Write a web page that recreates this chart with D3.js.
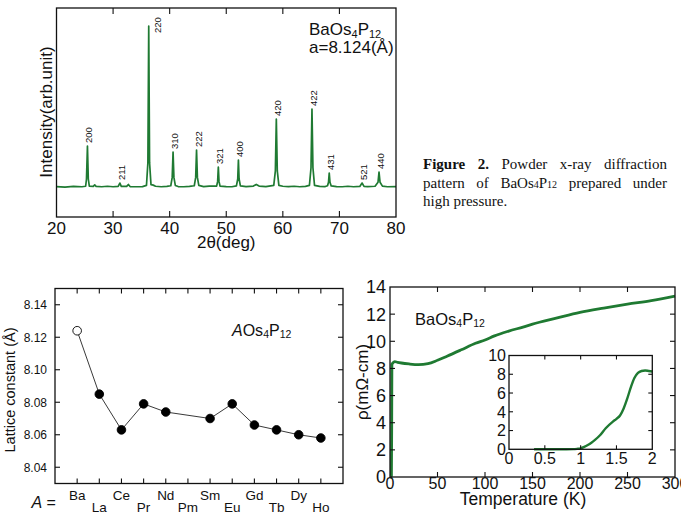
<!DOCTYPE html>
<html>
<head>
<meta charset="utf-8">
<script src="https://cdn.jsdelivr.net/npm/d3@7"></script>
<style>
  body { margin: 0; background: #fff; }
  text { font-family: 'Liberation Sans', Arial, sans-serif; fill: #111; }
  .serif { font-family: 'Liberation Serif', 'Times New Roman', serif; }
</style>
</head>
<body>
<div id="chart"></div>
<script>
// --- XRD pattern (top) ---
const xrdAngle = [20.0, 21.5, 23.0, 24.5, 25.15, 25.3, 25.47, 25.62, 25.8, 26.5, 26.75, 27.0, 28.0, 29.0, 30.0,
  30.9, 31.2, 31.45, 32.4, 32.7, 33.0, 34.0, 35.2, 35.9, 36.15, 36.3, 36.45, 36.7, 37.1, 37.5, 38.5, 39.5,
  40.2, 40.45, 40.6, 40.75, 41.0, 41.5, 42.5, 43.5, 44.35, 44.6, 44.75, 44.9, 45.15, 46.0, 47.0, 48.3, 48.48,
  48.6, 48.72, 48.9, 50.0, 51.0, 51.8, 52.03, 52.15, 52.27, 52.5, 53.5, 54.8, 55.3, 55.8, 57.0, 58.4, 58.68,
  58.85, 59.02, 59.3, 60.0, 61.0, 62.0, 63.0, 64.0, 64.7, 64.98, 65.15, 65.32, 65.6, 66.5, 67.5, 67.9, 68.07,
  68.2, 68.33, 68.55, 69.5, 70.5, 71.5, 72.5, 73.6, 74.0, 74.35, 75.0, 76.3, 76.82, 77.0, 77.18, 77.6, 78.5, 80.0];
const xrdCounts = [0.3, 0.0, 0.4, 0.2, 0.5, 5, 25.5, 5, 0.6, 0.4, 1.3, 0.4, 0.2, 0.5, 0.2,
  0.4, 2.5, 0.4, 0.4, 1.6, 0.3, 0.2, 0.3, 1.0, 15, 100, 15, 1.5, 1.2, 0.5, 0.2, 0.4,
  0.8, 6, 21.7, 6, 1.0, 0.3, 0.2, 0.4, 0.8, 6, 23, 6, 1.0, 0.3, 0.6, 0.6, 3.5,
  12.4, 3.5, 0.6, 0.3, 0.2, 0.7, 5, 16.8, 5, 0.7, 0.3, 0.6, 1.6, 0.6, 0.3, 1.0, 10,
  42.2, 10, 1.0, 0.5, 0.3, 0.5, 0.2, 0.4, 1.0, 12, 48.4, 12, 1.0, 0.4, 0.3, 0.8, 3,
  8.7, 3, 0.7, 0.3, 0.2, 0.5, 0.2, 0.4, 2.5, 0.4, 0.3, 0.5, 3, 9.3, 3, 0.6, 0.2, 0.3];
const peakHkl = ['200', '211', '220', '310', '222', '321', '400', '420', '422', '431', '521', '440'];
const peakAngle = [25.47, 31.2, 36.3, 40.6, 44.75, 48.6, 52.15, 58.85, 65.15, 68.2, 74.0, 77.0];
const peakHeight = [25.5, 2.5, 100, 21.7, 23, 12.4, 16.8, 42.2, 48.4, 8.7, 2.5, 9.3];
const xrdTicks = [20, 30, 40, 50, 60, 70, 80];

// --- lattice constants (bottom left) ---
const elements = ['Ba', 'La', 'Ce', 'Pr', 'Nd', 'Pm', 'Sm', 'Eu', 'Gd', 'Tb', 'Dy', 'Ho'];
const latticeA = [8.124, 8.085, 8.063, 8.079, 8.074, null, 8.070, 8.079, 8.066, 8.063, 8.060, 8.058];
const latticeTicks = [8.04, 8.06, 8.08, 8.10, 8.12, 8.14];

// --- resistivity (bottom right) ---
const rhoT = [0.5, 1.0, 1.5, 1.8, 2.0, 3, 5, 8, 12, 20, 30, 40, 50, 60, 75, 90, 100, 110, 125, 140, 150,
  175, 200, 225, 250, 275, 300];
const rhoV = [0, 0, 0.1, 4.0, 8.3, 8.4, 8.5, 8.45, 8.4, 8.33, 8.28, 8.35, 8.6, 8.9, 9.37, 9.85, 10.1,
  10.4, 10.75, 11.05, 11.26, 11.7, 12.13, 12.45, 12.74, 13.0, 13.33];
const insetT = [0.35, 0.5, 0.7, 0.9, 0.95, 1.0, 1.05, 1.1, 1.15, 1.2, 1.27, 1.35, 1.45, 1.5, 1.55, 1.6,
  1.65, 1.7, 1.75, 1.8, 1.85, 1.9, 1.95, 2.0];
const insetV = [0, 0, 0, 0.02, 0.05, 0.1, 0.25, 0.45, 0.7, 1.0, 1.5, 2.25, 2.95, 3.25, 3.6, 4.35,
  5.4, 6.6, 7.6, 8.15, 8.35, 8.4, 8.35, 8.3];
const rhoXTicks = [0, 50, 100, 150, 200, 250, 300];
const rhoYTicks = [0, 2, 4, 6, 8, 10, 12, 14];
const insetXTicks = [0, 0.5, 1, 1.5, 2];
const insetYTicks = [0, 2, 4, 6, 8, 10];

const GREEN = '#1f7a32';
const WIDTH = 681;
const HEIGHT = 516;

const svg = d3.select('#chart').append('svg')
  .attr('width', WIDTH).attr('height', HEIGHT)
  .attr('viewBox', [0, 0, WIDTH, HEIGHT]);

svg.append('rect').attr('width', WIDTH).attr('height', HEIGHT).attr('fill', '#fff');

/**
 * 化学式を下付き文字つきで描く
 */
function formula(g, x, y, parts, size, subSize, subDy) {
  const t = g.append('text').attr('x', x).attr('y', y).attr('font-size', size);
  parts.forEach(([s, sub, italic]) => {
    const sp = t.append('tspan').text(s);
    if (sub) sp.attr('font-size', subSize).attr('dy', subDy);
    else if (t.attr('data-sub') === '1') sp.attr('dy', -subDy);
    if (italic) sp.attr('font-style', 'italic');
    t.attr('data-sub', sub ? '1' : '0');
  });
  return t;
}

/**
 * 枠と内向きの目盛り
 */
function frame(g, x, y, ticksX, ticksY, len, opts) {
  const [x0, x1] = x.range();
  const [y0, y1] = y.range();
  const fmtX = opts.fmtX || (d => d);
  const fmtY = opts.fmtY || (d => d);
  const ax = g.append('g');
  const tickVals = ticksX.filter(d => x(d) > x0 + 1 && x(d) < x1 - 1);
  ax.selectAll('.tb').data(tickVals).join('line')
    .attr('x1', d => x(d)).attr('x2', d => x(d)).attr('y1', y0).attr('y2', y0 - len);
  ax.selectAll('.tt').data(tickVals).join('line')
    .attr('class', 'tt')
    .attr('x1', d => x(d)).attr('x2', d => x(d)).attr('y1', y1).attr('y2', y1 + len);
  if (ticksY) {
    const yVals = ticksY.filter(d => y(d) < y0 - 1 && y(d) > y1 + 1);
    ax.selectAll('.tl').data(yVals).join('line')
      .attr('class', 'tl')
      .attr('x1', x0).attr('x2', x0 + len).attr('y1', d => y(d)).attr('y2', d => y(d));
    ax.selectAll('.tr').data(yVals).join('line')
      .attr('class', 'tr')
      .attr('x1', x1).attr('x2', x1 - len).attr('y1', d => y(d)).attr('y2', d => y(d));
  }
  ax.selectAll('line').attr('stroke', '#111').attr('stroke-width', 1.1);
  g.append('rect')
    .attr('x', x0).attr('y', y1).attr('width', x1 - x0).attr('height', y0 - y1)
    .attr('fill', 'none').attr('stroke', '#111').attr('stroke-width', 1.3);
  if (opts.labelX) {
    g.append('g').selectAll('text').data(ticksX).join('text')
      .attr('x', d => x(d)).attr('y', y0 + opts.labelX)
      .attr('text-anchor', 'middle').attr('font-size', opts.size)
      .text(fmtX);
  }
  if (ticksY && opts.labelY) {
    g.append('g').selectAll('text').data(ticksY).join('text')
      .attr('x', x0 - opts.labelY).attr('y', d => y(d))
      .attr('dy', '0.36em')
      .attr('text-anchor', 'end').attr('font-size', opts.sizeY || opts.size)
      .text(fmtY);
  }
}

// ===== XRD =====
const gx = svg.append('g');
const xX = d3.scaleLinear().domain([20, 80]).range([56.5, 396]);
const yX = d3.scaleLinear().domain([-18.6, 111.2]).range([217, 8]);

gx.append('path')
  .datum(xrdAngle.map((a, i) => [a, xrdCounts[i]]))
  .attr('fill', 'none').attr('stroke', GREEN).attr('stroke-width', 1.7)
  .attr('stroke-linejoin', 'round')
  .attr('d', d3.line().x(d => xX(d[0])).y(d => yX(d[1])));

frame(gx, xX, yX, xrdTicks, null, 6, { labelX: 17, size: 17 });

const maxPeak = d3.max(peakHeight);
gx.append('g').selectAll('text').data(peakHkl).join('text')
  .attr('font-size', 9.5)
  .attr('transform', (d, i) => {
    const side = peakHeight[i] === maxPeak;
    const px = xX(peakAngle[i]) + (side ? 12 : 5);
    const py = yX(peakHeight[i]) + (side ? 7 : -3);
    return `translate(${px},${py}) rotate(-90)`;
  })
  .text(d => d);

gx.append('text')
  .attr('x', (xX.range()[0] + xX.range()[1]) / 2).attr('y', 248)
  .attr('text-anchor', 'middle').attr('font-size', 17)
  .text('2θ(deg)');
gx.append('text')
  .attr('transform', 'translate(52,112) rotate(-90)')
  .attr('text-anchor', 'middle').attr('font-size', 17)
  .text('Intensity(arb.unit)');
formula(gx, 309, 35, [['BaOs'], ['4', true], ['P'], ['12', true]], 17, 11, 3);
gx.append('text').attr('x', 309).attr('y', 53).attr('font-size', 17).text('a=8.124(Å)');

// caption, justified on the first two lines
const capLines = [
  [['Figure 2.', 'bold'], [' Powder x-ray diffraction']],
  [['pattern of BaOs'], ['4', 'sub'], ['P'], ['12', 'sub'], [' prepared under']],
  [['high pressure.']],
];
const capY = [169, 188, 206];
capLines.forEach((line, li) => {
  const t = svg.append('text').attr('class', 'serif')
    .attr('x', 423).attr('y', capY[li]).attr('font-size', 15);
  line.forEach(([s, kind]) => {
    const sp = t.append('tspan').text(s);
    if (kind === 'bold') sp.attr('font-weight', 'bold');
    if (kind === 'sub') sp.attr('font-size', 10);
  });
  if (li < capLines.length - 1) {
    const spaces = line.map(p => p[0]).join('').split(' ').length - 1;
    const w = t.node().getComputedTextLength();
    t.style('word-spacing', ((667 - 423 - w) / spaces) + 'px');
  }
});

// ===== lattice constant =====
const gl = svg.append('g');
const xL = d3.scalePoint().domain(elements).range([55, 343]).padding(1);
const yL = d3.scaleLinear().domain([8.03, 8.15]).range([483.5, 288.5]);
const xLin = d3.scaleLinear().domain([55, 343]).range([55, 343]);

frame(gl, xLin, yL, elements.map(e => xL(e)), latticeTicks, 5,
  { labelY: 8, size: 12, fmtY: d3.format('.2f') });

const pts = elements.map((e, i) => ({ e, v: latticeA[i], i })).filter(d => d.v !== null);
gl.append('path').datum(pts)
  .attr('fill', 'none').attr('stroke', '#222').attr('stroke-width', 0.9)
  .attr('d', d3.line().x(d => xL(d.e)).y(d => yL(d.v)));
gl.append('g').selectAll('circle').data(pts).join('circle')
  .attr('cx', d => xL(d.e)).attr('cy', d => yL(d.v)).attr('r', 4.3)
  .attr('fill', d => (d.i === 0 ? '#fff' : '#000'))
  .attr('stroke', '#000').attr('stroke-width', 0.9);

gl.append('g').selectAll('text').data(elements).join('text')
  .attr('x', d => xL(d)).attr('y', (d, i) => (i % 2 ? 511.5 : 499.5))
  .attr('text-anchor', 'middle').attr('font-size', 13.5)
  .text(d => d);
formula(gl, 31.5, 507.5, [['A', false, true], [' =']], 16, 16, 0);
gl.append('text')
  .attr('transform', 'translate(15,390) rotate(-90)')
  .attr('text-anchor', 'middle').attr('font-size', 14.5)
  .text('Lattice constant (Å)');
formula(gl, 232, 336, [['A', false, true], ['Os'], ['4', true], ['P'], ['12', true]], 16, 10.5, 2);

// ===== resistivity =====
const gr = svg.append('g');
const xR = d3.scaleLinear().domain([0, 300]).range([390, 675]);
const yR = d3.scaleLinear().domain([0, 14]).range([477, 287]);

gr.append('path')
  .datum(rhoT.map((t, i) => [t, rhoV[i]]))
  .attr('fill', 'none').attr('stroke', GREEN).attr('stroke-width', 2.8)
  .attr('stroke-linejoin', 'round')
  .attr('d', d3.line().curve(d3.curveMonotoneX).x(d => xR(d[0])).y(d => yR(d[1])));

frame(gr, xR, yR, rhoXTicks, rhoYTicks, 5, { labelX: 12, labelY: 4, size: 16, sizeY: 18 });

gr.append('text')
  .attr('x', 523).attr('y', 505)
  .attr('text-anchor', 'middle').attr('font-size', 17.5)
  .text('Temperature (K)');
gr.append('text')
  .attr('transform', 'translate(368,382) rotate(-90)')
  .attr('text-anchor', 'middle').attr('font-size', 17)
  .text('ρ(mΩ-cm)');
formula(gr, 415, 325, [['BaOs'], ['4', true], ['P'], ['12', true]], 16.5, 10.5, 2);

// inset
const gi = svg.append('g');
const xI = d3.scaleLinear().domain([0, 2]).range([509, 652.3]);
const yI = d3.scaleLinear().domain([0, 10]).range([449.3, 355.5]);
gi.append('rect')
  .attr('x', 509).attr('y', 355.5).attr('width', 143.3).attr('height', 93.8).attr('fill', '#fff');
gi.append('path')
  .datum(insetT.map((t, i) => [t, insetV[i]]))
  .attr('fill', 'none').attr('stroke', GREEN).attr('stroke-width', 2.4)
  .attr('stroke-linejoin', 'round')
  .attr('d', d3.line().curve(d3.curveMonotoneX).x(d => xI(d[0])).y(d => yI(d[1])));
frame(gi, xI, yI, insetXTicks, insetYTicks, 4, { labelX: 15, labelY: 3, size: 16 });
</script>
</body>
</html>
